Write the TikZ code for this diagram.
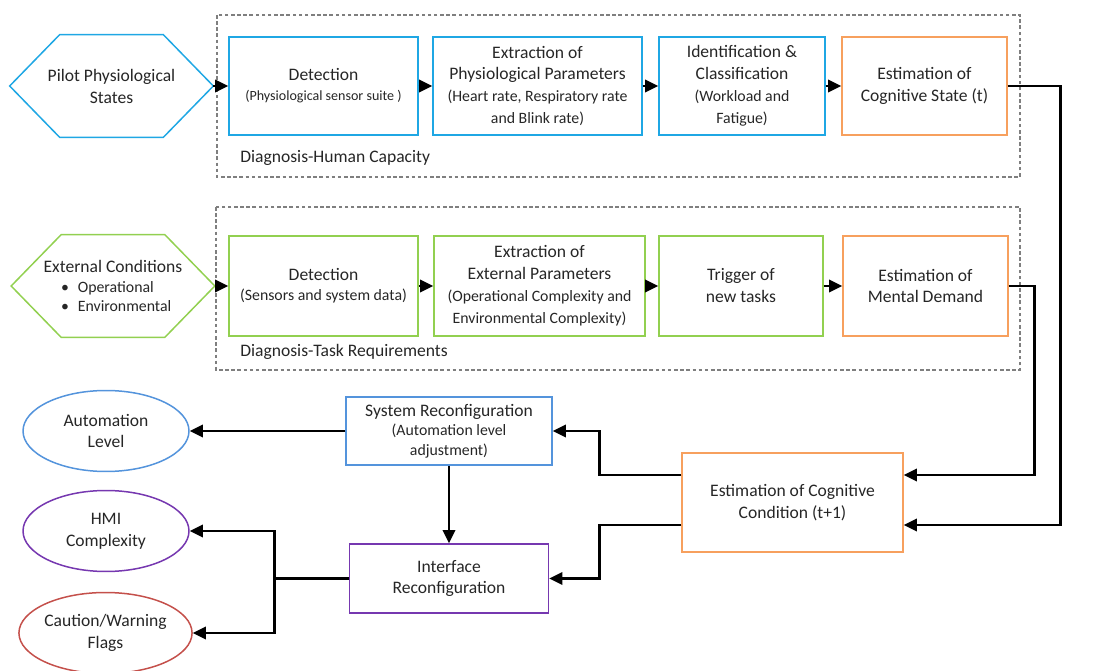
\documentclass[tikz,border=0pt]{standalone}
\usepackage{fontspec}
\setmainfont{Carlito}
\usetikzlibrary{positioning, shapes.geometric, arrows.meta, calc}
\definecolor{hcyan}{HTML}{1FA7E4}
\definecolor{hgreen}{HTML}{92D050}
\definecolor{horange}{HTML}{F7A05E}
\definecolor{hblue}{HTML}{5494DC}
\definecolor{hpurple}{HTML}{7638B0}
\definecolor{hred}{HTML}{C4504B}
\definecolor{htext}{HTML}{262626}
\definecolor{hgray}{HTML}{7F7F7F}
\newcommand{\subf}{\fontsize{9}{12.5}\selectfont}
\newcommand{\tinyf}{\fontsize{8}{12.5}\selectfont}

\begin{document}
\begin{tikzpicture}[x=0.02cm, y=-0.02cm,
    font=\fontsize{10}{12.5}\selectfont, text=htext,
    box/.style={draw=#1, line width=0.85pt, align=center, inner sep=2pt},
    hexa/.style={minimum width=4.06cm, minimum height=2.04cm, inner sep=0pt},
    hexline/.style={draw=#1, line width=0.85pt},
    oval/.style={draw=#1, line width=0.85pt, ellipse, align=center,
      minimum width=3.32cm, minimum height=1.62cm, inner sep=0pt},
    group/.style={draw=hgray, line width=0.6pt, dash pattern=on 2pt off 1.5pt},
    arr/.style={line width=1.5pt, -{Triangle[length=7.5pt,width=7pt]}},
    line/.style={line width=1.5pt}]
  \useasboundingbox (0,0) rectangle (1101,671);

  % dashed groups
  \draw[group] (217,15) rectangle (1020,177);
  \draw[group] (216,207) rectangle (1020,370);
  \node[anchor=west, inner sep=0pt] (lblhc) at (240,158) {Diagnosis-Human Capacity};
  \node[anchor=west, inner sep=0pt] (lbltr) at (240,352) {Diagnosis-Task Requirements};

  % human capacity row
  \node[hexa, align=center] (pilot) at (111.5,86) {Pilot Physiological\\States};
  \draw[hexline=hcyan] (pilot.west) -- ([xshift=1cm]pilot.north west)
    -- ([xshift=-1cm]pilot.north east) -- (pilot.east)
    -- ([xshift=-1cm]pilot.south east) -- ([xshift=1cm]pilot.south west) -- cycle;
  \node[box=hcyan, minimum width=3.78cm, minimum height=1.96cm] (det1) at (323.5,86)
    {Detection\\[-1pt]{\tinyf(Physiological sensor suite )}};
  \node[box=hcyan, minimum width=4.18cm, minimum height=1.96cm] (ext1) at (537.5,86)
    {Extraction of\\Physiological Parameters\\{\subf(Heart rate, Respiratory rate}\\{\subf and Blink rate)}};
  \node[box=hcyan, minimum width=3.32cm, minimum height=1.96cm] (ident) at (742,86)
    {Identification \&\\Classification\\{\subf(Workload and}\\{\subf Fatigue)}};
  \node[box=horange, minimum width=3.3cm, minimum height=1.96cm] (cogst) at (924.5,86)
    {Estimation of\\Cognitive State (t)};

  % task requirements row
  \node[hexa, align=left] (extc) at (113,286)
    {External Conditions\\[-1.5pt]
     {\subf\hspace*{10pt}\textbullet\hspace{5pt}Operational}\\[-1.5pt]
     {\subf\hspace*{10pt}\textbullet\hspace{5pt}Environmental}};
  \draw[hexline=hgreen] (extc.west) -- ([xshift=1cm]extc.north west)
    -- ([xshift=-1cm]extc.north east) -- (extc.east)
    -- ([xshift=-1cm]extc.south east) -- ([xshift=1cm]extc.south west) -- cycle;
  \node[box=hgreen, minimum width=3.78cm, minimum height=2cm] (det2) at (323.5,286)
    {Detection\\[-1pt]{\subf(Sensors and system data)}};
  \node[box=hgreen, minimum width=4.22cm, minimum height=2cm] (ext2) at (539.5,286)
    {Extraction of\\External Parameters\\{\subf(Operational Complexity and}\\{\subf Environmental Complexity)}};
  \node[box=hgreen, minimum width=3.28cm, minimum height=2cm] (trig) at (741,286)
    {Trigger of\\new tasks};
  \node[box=horange, minimum width=3.3cm, minimum height=2cm] (mdem) at (925.5,286)
    {Estimation of\\Mental Demand};

  % reconfiguration part
  \node[box=horange, minimum width=4.42cm, minimum height=1.98cm] (cogcd) at (792.5,502.5)
    {Estimation of Cognitive\\Condition (t+1)};
  \node[box=hblue, minimum width=4.12cm, minimum height=1.36cm] (sysrc) at (449,431)
    {System Reconfiguration\\[-1.5pt]{\subf(Automation level}\\[-1.5pt]{\subf adjustment)}};
  \node[box=hpurple, minimum width=3.98cm, minimum height=1.38cm] (intrc) at (449,578.5)
    {Interface\\Reconfiguration};
  \node[oval=hblue] (autol) at (106,431) {Automation\\Level};
  \node[oval=hpurple] (hmic) at (106,531) {HMI\\Complexity};
  \node[oval=hred] (cautf) at (105.5,633) {Caution/Warning\\Flags};

  % connectors
  \draw[arr] (pilot) -- (det1);
  \draw[arr] (det1) -- (ext1);
  \draw[arr] (ext1) -- (ident);
  \draw[arr] (ident) -- (cogst);
  \draw[arr] (extc) -- (det2);
  \draw[arr] (det2) -- (ext2);
  \draw[arr] (ext2) -- (trig);
  \draw[arr] (trig) -- (mdem);
  \draw[arr] (cogst.east) -- ++(53,0) |- ([yshift=-0.45cm]cogcd.east);
  \draw[arr] (mdem.east) -- ++(26,0) |- ([yshift=0.55cm]cogcd.east);
  \draw[arr] ([yshift=0.55cm]cogcd.west) -- ++(-82,0) |- (sysrc.east);
  \draw[arr] ([yshift=-0.45cm]cogcd.west) -- ++(-82,0) |- (intrc.east);
  \draw[arr] (sysrc) -- (intrc);
  \draw[arr] (sysrc) -- (autol);
  \draw[line] (intrc.west) -- ++(-74,0) coordinate (split);
  \draw[arr] (split) |- (hmic.east);
  \draw[arr] (split) |- (cautf.east);
\end{tikzpicture}
\end{document}
